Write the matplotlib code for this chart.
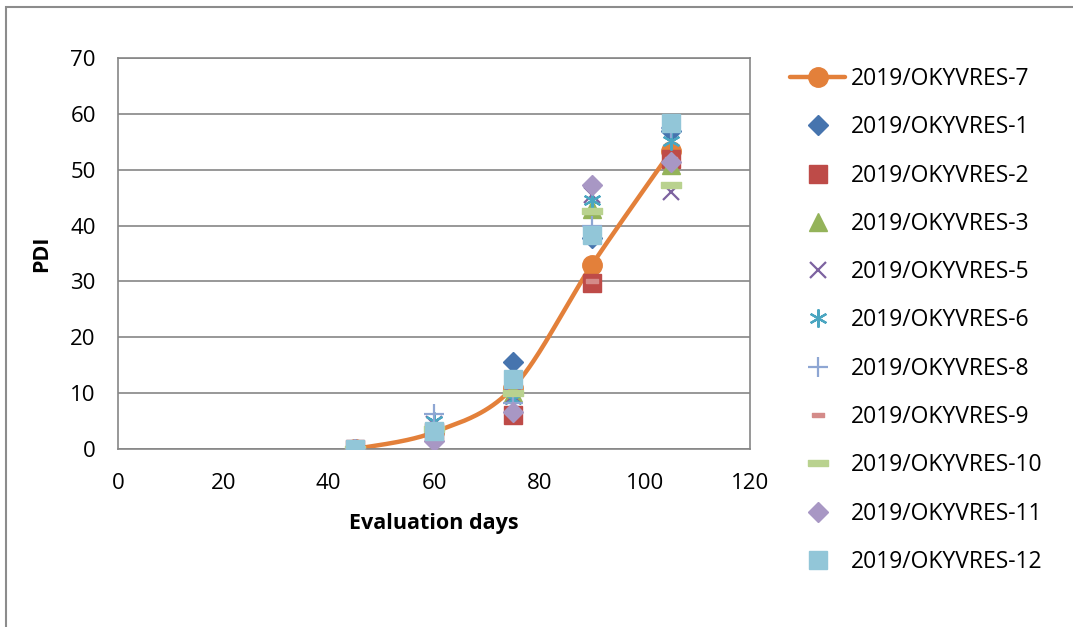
import numpy as np
import matplotlib
matplotlib.use("Agg")
import matplotlib.pyplot as plt
from matplotlib.patches import Rectangle
from matplotlib.lines import Line2D

plt.rcParams['font.family'] = ['Open Sans', 'DejaVu Sans']

days = [45, 60, 75, 90, 105]
names = ["2019/OKYVRES-7", "2019/OKYVRES-1", "2019/OKYVRES-2", "2019/OKYVRES-3",
         "2019/OKYVRES-5", "2019/OKYVRES-6", "2019/OKYVRES-8", "2019/OKYVRES-9",
         "2019/OKYVRES-10", "2019/OKYVRES-11", "2019/OKYVRES-12"]
v7 = [0, 3.0, 11.0, 33.0, 53.3]
v1 = [0, 3.5, 15.6, 37.8, 57.0]
v2 = [0, 3.0, 6.0, 29.8, 52.0]
v3 = [0, 3.5, 10.0, 43.0, 50.8]
v5 = [0, 4.5, 9.5, 45.5, 46.0]
v6 = [0, 5.0, 9.0, 44.5, 55.2]
v8 = [0, 6.3, 8.2, 40.0, 57.5]
v9 = [0, 3.0, 7.0, 30.0, 52.0]
v10 = [0, 3.5, 10.0, 42.6, 47.3]
v11 = [0, 1.5, 6.6, 47.2, 51.4]
v12 = [0, 3.2, 12.6, 38.4, 58.3]
series = [v7, v1, v2, v3, v5, v6, v8, v9, v10, v11, v12]

xticks = [0, 20, 40, 60, 80, 100, 120]
yticks = [0, 10, 20, 30, 40, 50, 60, 70]

W, H = 1073, 627
fig = plt.figure(figsize=(W/100, H/100), dpi=100)
fig.patches.append(Rectangle((6/W, -0.1), 1.2, (H-7)/H + 0.1, transform=fig.transFigure,
                             fill=False, edgecolor='#8c8c8c', lw=1.5, zorder=0))
ax = fig.add_axes([118/W, 1-449/H, (750-118)/W, (449-58)/H])
ax.set_xlim(0, 120)
ax.set_ylim(0, 70)
ax.set_xticks(xticks)
ax.set_yticks(yticks)
ax.grid(axis='y', color='#868686', lw=1.2)
ax.set_axisbelow(True)
for s in ax.spines.values():
    s.set_color('#868686')
    s.set_linewidth(1.2)
ax.tick_params(length=0, labelsize=16)
ax.tick_params(axis='x', pad=17)
ax.tick_params(axis='y', pad=16)

# Excel-like smooth curve (Bezier with neighbor-based controls) in pixel space
def smooth(xs, ys, sx, sy, n=40):
    P = np.column_stack([np.array(xs, float)*sx, np.array(ys, float)*sy])
    ext = np.vstack([P[0], P, P[-1]])
    out = []
    for i in range(len(P)-1):
        p0, p1, p2, p3 = ext[i], ext[i+1], ext[i+2], ext[i+3]
        c1 = p1 + (p2-p0)/6
        c2 = p2 - (p3-p1)/6
        t = np.linspace(0, 1, n)[:, None]
        seg = (1-t)**3*p1 + 3*(1-t)**2*t*c1 + 3*(1-t)*t**2*c2 + t**3*p2
        out.append(seg)
    out = np.vstack(out)
    return out[:, 0]/sx, out[:, 1]/sy

sx, sy = 632/120, 391/70
cx, cy = smooth(days, v7, sx, sy)
orange = '#E3803A'
ax.plot(cx, cy, color=orange, lw=3.2, solid_capstyle='round', zorder=2)
ax.plot(days, v7, ls='none', marker='o', ms=14, color=orange, zorder=2)

dash_s = [(-1, -0.3), (1, -0.3), (1, 0.3), (-1, 0.3), (-1, -0.3)]
styles = [
    dict(marker='D', ms=10, color='#4674AE'),
    dict(marker='s', ms=13, color='#BE4B48'),
    dict(marker='^', ms=13, color='#94B35A'),
    dict(marker='x', ms=11, color='#7D62A0', mew=1.6),
    dict(marker=(6, 2, 0), ms=13, color='#4BA6C1', mew=1.6),
    dict(marker='+', ms=14, color='#8EA6D3', mew=1.6),
    dict(marker=dash_s, ms=8, color='#D48B89'),
    dict(marker=dash_s, ms=14, color='#B9D28F'),
    dict(marker='D', ms=10, color='#A897C4'),
    dict(marker='s', ms=13, color='#92C6D8'),
]
handles = [Line2D([], [], color=orange, lw=3.2, marker='o', ms=14, solid_capstyle='round')]
for st, vals in zip(styles, series[1:]):
    ax.plot(days, vals, ls='none', zorder=3, **st)
    handles.append(Line2D([], [], ls='none', **st))

ax.set_xlabel('Evaluation days', fontsize=15.5, fontweight='bold', labelpad=14)
ax.set_ylabel('PDI', fontsize=15.5, fontweight='bold', labelpad=13)

fig.legend(handles, names, loc='upper left', bbox_to_anchor=(790/W, 1-67/H),
           frameon=False, fontsize=16.5, handlelength=2.4, labelspacing=1.06,
           handletextpad=0.25, borderaxespad=0, borderpad=0)

fig.savefig('out.png', dpi=100)
